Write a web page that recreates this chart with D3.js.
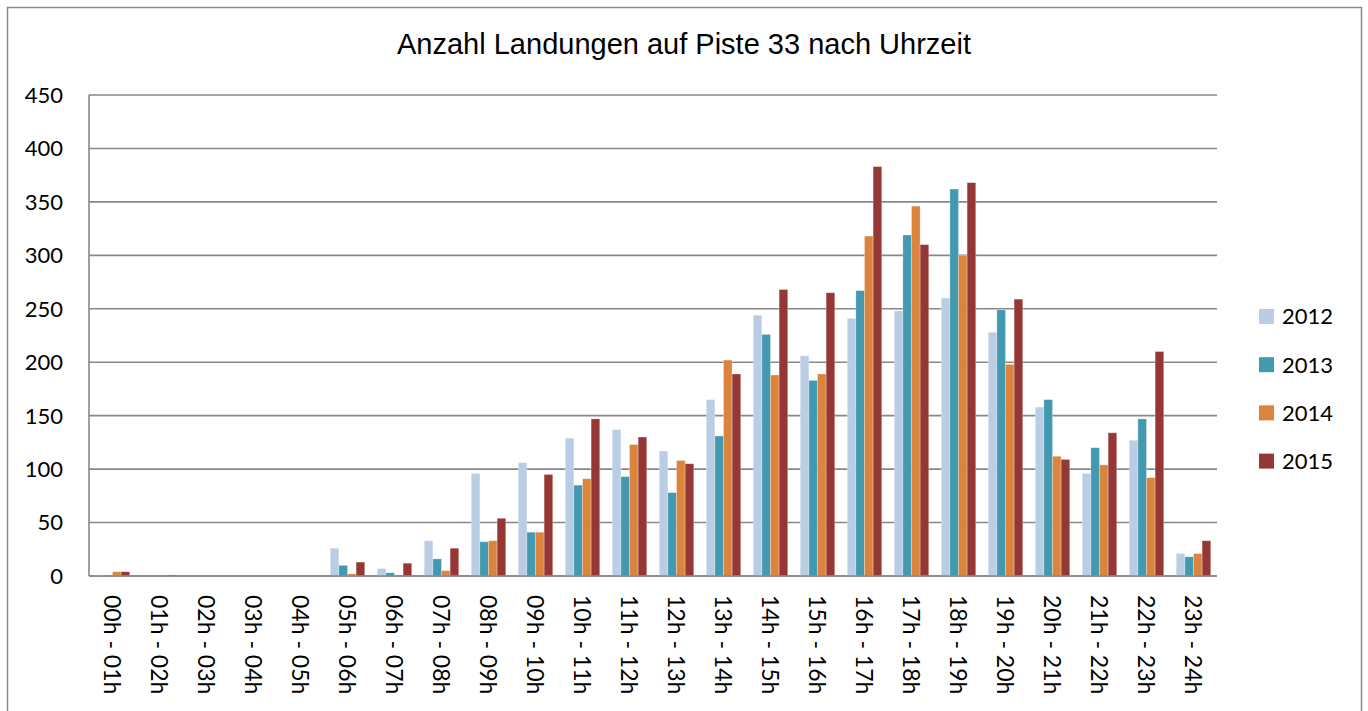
<!DOCTYPE html>
<html>
<head>
<meta charset="utf-8">
<script src="https://cdn.jsdelivr.net/npm/d3@7"></script>
<style>
	body { margin: 0; background: #fff; }
	svg { display: block; }
</style>
</head>
<body>
<div id="chart"></div>
<script>
	'use strict';

	// Time slots (x axis)
	var categories = [
		'00h - 01h', '01h - 02h', '02h - 03h', '03h - 04h', '04h - 05h', '05h - 06h',
		'06h - 07h', '07h - 08h', '08h - 09h', '09h - 10h', '10h - 11h', '11h - 12h',
		'12h - 13h', '13h - 14h', '14h - 15h', '15h - 16h', '16h - 17h', '17h - 18h',
		'18h - 19h', '19h - 20h', '20h - 21h', '21h - 22h', '22h - 23h', '23h - 24h'
	];

	var years = ['2012', '2013', '2014', '2015'];

	// Landings per slot
	var values2012 = [1, 0, 0, 0, 0, 26, 7, 33, 96, 106, 129, 137, 117, 165, 244, 206, 241, 248, 260, 228, 158, 96, 127, 21];
	var values2013 = [0, 0, 0, 0, 0, 10, 3, 16, 32, 41, 85, 93, 78, 131, 226, 183, 267, 319, 362, 249, 165, 120, 147, 18];
	var values2014 = [4, 0, 0, 0, 0, 2, 0, 5, 33, 41, 91, 123, 108, 202, 188, 189, 318, 346, 300, 198, 112, 104, 92, 21];
	var values2015 = [4, 1, 0, 0, 0, 13, 12, 26, 54, 95, 147, 130, 105, 189, 268, 265, 383, 310, 368, 259, 109, 134, 210, 33];

	var yTicks = [0, 50, 100, 150, 200, 250, 300, 350, 400, 450];

	var colors = ['#b9cde5', '#4299b0', '#db843d', '#953735'];

	var seriesValues = [values2012, values2013, values2014, values2015];

	var width = 1368, height = 711;
	var plot = { left: 89, right: 1217, top: 95, bottom: 576 };

	var svg = d3.select('#chart')
		.append('svg')
		.attr('width', width)
		.attr('height', height);

	// Chart frame
	svg.append('rect')
		.attr('x', 7.5)
		.attr('y', 7.5)
		.attr('width', 1354)
		.attr('height', 720)
		.attr('fill', '#fff')
		.attr('stroke', '#8a8a8a')
		.attr('stroke-width', 1.5);

	// Title
	svg.append('text')
		.attr('x', 684)
		.attr('y', 54)
		.attr('text-anchor', 'middle')
		.style('font-family', '"Liberation Sans", Arial, sans-serif')
		.style('font-size', '29px')
		.attr('fill', '#000')
		.text('Anzahl Landungen auf Piste 33 nach Uhrzeit');

	var x0 = d3.scaleBand()
		.domain(categories)
		.range([plot.left, plot.right])
		.paddingInner(0.266)
		.paddingOuter(0.133);

	var x1 = d3.scaleBand()
		.domain(years)
		.range([0, x0.bandwidth()]);

	var y = d3.scaleLinear()
		.domain([0, 450])
		.range([plot.bottom, plot.top]);

	// Gridlines
	svg.append('g')
		.selectAll('line')
		.data(yTicks)
		.enter()
		.append('line')
		.attr('x1', plot.left)
		.attr('x2', plot.right)
		.attr('y1', function(d) { return y(d); })
		.attr('y2', function(d) { return y(d); })
		.attr('stroke', '#878787')
		.attr('stroke-width', 1.6);

	// Y axis line
	svg.append('line')
		.attr('x1', plot.left)
		.attr('x2', plot.left)
		.attr('y1', plot.top)
		.attr('y2', plot.bottom)
		.attr('stroke', '#878787')
		.attr('stroke-width', 1.6);

	// Y tick labels
	svg.append('g')
		.selectAll('text')
		.data(yTicks)
		.enter()
		.append('text')
		.attr('x', 63)
		.attr('y', function(d) { return y(d); })
		.attr('dy', '0.36em')
		.attr('text-anchor', 'end')
		.style('font-family', 'Lato, sans-serif')
		.style('font-size', '22px')
		.attr('fill', '#000')
		.text(function(d) { return d; });

	// Bars
	var groups = svg.append('g')
		.selectAll('g')
		.data(categories)
		.enter()
		.append('g')
		.attr('transform', function(d) { return 'translate(' + x0(d) + ',0)'; });

	groups.selectAll('rect')
		.data(function(d, i) {
			return years.map(function(year, s) { return { year: year, value: seriesValues[s][i], color: colors[s] }; });
		})
		.enter()
		.append('rect')
		.attr('x', function(d) { return x1(d.year); })
		.attr('y', function(d) { return y(d.value); })
		.attr('width', x1.bandwidth())
		.attr('height', function(d) { return y(0) - y(d.value); })
		.attr('fill', function(d) { return d.color; })
		.attr('stroke', 'rgba(255,255,255,0.35)')
		.attr('stroke-width', 0.8);

	// Baseline on top of bars
	svg.append('line')
		.attr('x1', plot.left)
		.attr('x2', plot.right)
		.attr('y1', y(0))
		.attr('y2', y(0))
		.attr('stroke', '#878787')
		.attr('stroke-width', 1.6);

	// X labels, rotated
	svg.append('g')
		.selectAll('text')
		.data(categories)
		.enter()
		.append('text')
		.attr('transform', function(d) { return 'translate(' + (x0(d) + x0.bandwidth() / 2) + ',595) rotate(90)'; })
		.attr('dy', '0.36em')
		.attr('text-anchor', 'start')
		.style('font-family', 'Lato, sans-serif')
		.style('font-size', '23px')
		.attr('fill', '#000')
		.text(function(d) { return d; });

	// Legend
	var legend = svg.append('g')
		.selectAll('g')
		.data(years)
		.enter()
		.append('g')
		.attr('transform', function(d, i) { return 'translate(1259,' + (316.5 + i * 48.2) + ')'; });

	legend.append('rect')
		.attr('x', 0)
		.attr('y', -7.5)
		.attr('width', 15)
		.attr('height', 15)
		.attr('fill', function(d, i) { return colors[i]; });

	legend.append('text')
		.attr('x', 23)
		.attr('y', 0)
		.attr('dy', '0.36em')
		.style('font-family', 'Lato, sans-serif')
		.style('font-size', '22px')
		.attr('fill', '#000')
		.text(function(d) { return d; });
</script>
</body>
</html>
